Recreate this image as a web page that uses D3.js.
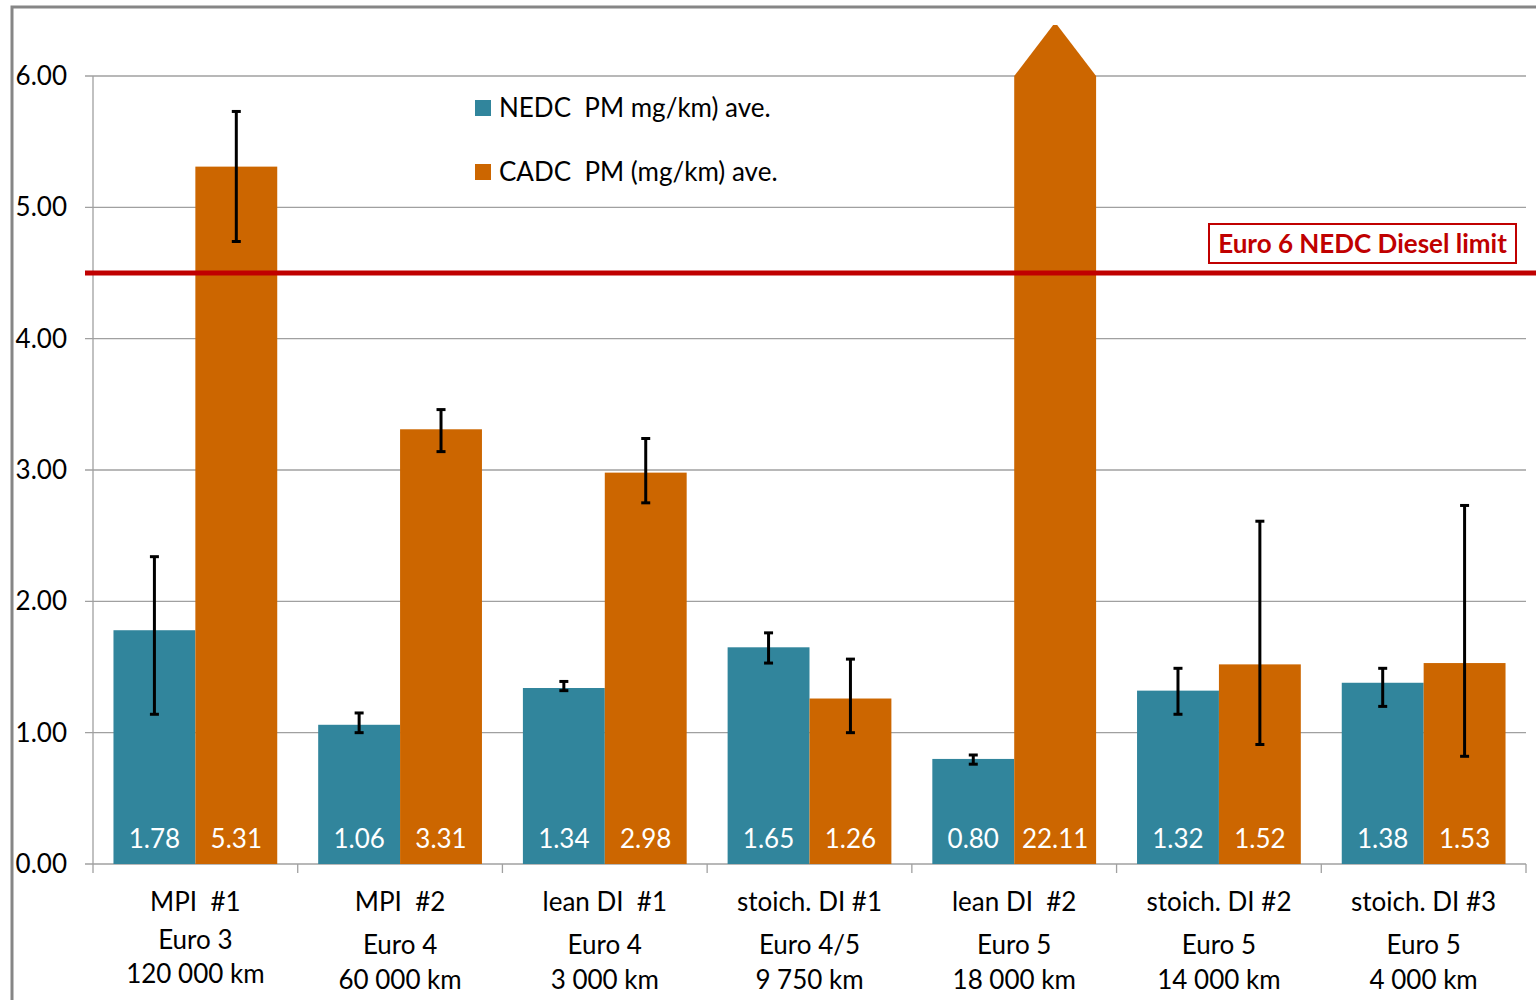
<!DOCTYPE html>
<html>
<head>
<meta charset="utf-8">
<script src="https://cdn.jsdelivr.net/npm/d3@7"></script>
<style>
  html, body { margin: 0; padding: 0; background: #fff; }
  svg { display: block; font-family: Lato, "Open Sans", sans-serif; }
  svg text { white-space: pre; }
</style>
</head>
<body>
<svg id="chart" width="1536" height="1000"></svg>
<script>
// Vehicle groups and their multi-line axis labels
const categories = ["MPI #1", "MPI #2", "lean DI #1", "stoich. DI #1", "lean DI #2", "stoich. DI #2", "stoich. DI #3"];
const labelLine1 = ["MPI  #1", "MPI  #2", "lean DI  #1", "stoich. DI #1", "lean DI  #2", "stoich. DI #2", "stoich. DI #3"];
const labelLine2 = ["Euro 3", "Euro 4", "Euro 4", "Euro 4/5", "Euro 5", "Euro 5", "Euro 5"];
const labelLine3 = ["120 000 km", "60 000 km", "3 000 km", "9 750 km", "18 000 km", "14 000 km", "4 000 km"];

// Average PM emissions (mg/km)
const seriesNames = ["NEDC  PM mg/km) ave.", "CADC  PM (mg/km) ave."];
const nedcValues = [1.78, 1.06, 1.34, 1.65, 0.80, 1.32, 1.38];
const cadcValues = [5.31, 3.31, 2.98, 1.26, 22.11, 1.52, 1.53];

// Error bar ranges (min / max)
const nedcErrLow  = [1.14, 1.00, 1.32, 1.53, 0.76, 1.14, 1.20];
const nedcErrHigh = [2.34, 1.15, 1.39, 1.76, 0.83, 1.49, 1.49];
const cadcErrLow  = [4.74, 3.14, 2.75, 1.00, null, 0.91, 0.82];
const cadcErrHigh = [5.73, 3.46, 3.24, 1.56, null, 2.61, 2.73];

// Y axis ticks and the regulatory limit
const yTicks = [0, 1, 2, 3, 4, 5, 6];
const limitValue = 4.5;
const limitLabel = "Euro 6 NEDC Diesel limit";

const colors = ["#31859C", "#CC6600"];
const red = "#C00000";
const fontSize = 26;

const svg = d3.select("#chart");
const plot = { left: 93, right: 1526, top: 76, bottom: 864 };

const x = d3.scaleBand().domain(categories).range([plot.left, plot.right])
  .paddingInner(0.2).paddingOuter(0.1);
const xInner = d3.scaleBand().domain([0, 1]).range([0, x.bandwidth()]);
const y = d3.scaleLinear().domain([0, 6]).range([plot.bottom, plot.top]);
const yMax = y.domain()[1];

// Outer chart frame
svg.append("path")
  .attr("d", `M12,1000 V7 H1536`)
  .attr("fill", "none").attr("stroke", "#868686").attr("stroke-width", 3);

// Gridlines with small ticks to the left of the axis
svg.append("g").selectAll("line").data(yTicks).join("line")
  .attr("x1", plot.left - 8).attr("x2", plot.right)
  .attr("y1", d => y(d)).attr("y2", d => y(d))
  .attr("stroke", "#a0a0a0").attr("stroke-width", 1.3);

// Vertical axis line
svg.append("line")
  .attr("x1", plot.left).attr("x2", plot.left)
  .attr("y1", plot.top).attr("y2", plot.bottom)
  .attr("stroke", "#a0a0a0").attr("stroke-width", 1.3);

// Y tick labels
svg.append("g").selectAll("text").data(yTicks).join("text")
  .attr("x", 67).attr("y", d => y(d))
  .attr("dy", "0.35em").attr("text-anchor", "end")
  .attr("font-size", fontSize).attr("fill", "#000")
  .text(d => d3.format(".2f")(d));

// Category separator ticks below the axis
const step = x.step();
const boundaries = d3.range(categories.length + 1).map(i => plot.left + i * step);
svg.append("g").selectAll("line").data(boundaries).join("line")
  .attr("x1", d => d).attr("x2", d => d)
  .attr("y1", plot.bottom).attr("y2", plot.bottom + 9)
  .attr("stroke", "#a0a0a0").attr("stroke-width", 1.3);

// Bars
const series = [
  { values: nedcValues, lo: nedcErrLow, hi: nedcErrHigh },
  { values: cadcValues, lo: cadcErrLow, hi: cadcErrHigh }
];

const barsG = svg.append("g");
series.forEach((s, si) => {
  s.values.forEach((v, i) => {
    const x0 = x(categories[i]) + xInner(si);
    const w = xInner.bandwidth();
    if (v <= yMax) {
      barsG.append("rect")
        .attr("x", x0).attr("y", y(v))
        .attr("width", w).attr("height", y(0) - y(v))
        .attr("fill", colors[si]);
    } else {
      // Off-scale value: bar clipped at the axis top with an arrow head
      const top = y(yMax);
      const tip = top - 51;
      const cx = x0 + w / 2;
      barsG.append("path")
        .attr("d", `M${x0},${y(0)} V${top} L${cx - 2},${tip} L${cx + 2},${tip} L${x0 + w},${top} V${y(0)} Z`)
        .attr("fill", colors[si]);
    }
  });
});

// Limit line
svg.append("line")
  .attr("x1", plot.left - 8).attr("x2", 1536)
  .attr("y1", y(limitValue)).attr("y2", y(limitValue))
  .attr("stroke", red).attr("stroke-width", 5);

// Error bars
const errG = svg.append("g").attr("stroke", "#000").attr("stroke-width", 3);
series.forEach((s, si) => {
  s.values.forEach((v, i) => {
    if (s.lo[i] == null) return;
    const cx = x(categories[i]) + xInner(si) + xInner.bandwidth() / 2;
    errG.append("line").attr("x1", cx).attr("x2", cx)
      .attr("y1", y(s.lo[i])).attr("y2", y(s.hi[i]));
    [s.lo[i], s.hi[i]].forEach(e => {
      errG.append("line").attr("x1", cx - 4.5).attr("x2", cx + 4.5)
        .attr("y1", y(e)).attr("y2", y(e));
    });
  });
});

// Value labels inside the bars
series.forEach((s, si) => {
  svg.append("g").selectAll("text").data(s.values).join("text")
    .attr("x", (d, i) => x(categories[i]) + xInner(si) + xInner.bandwidth() / 2)
    .attr("y", 839).attr("dy", "0.35em")
    .attr("text-anchor", "middle").attr("font-size", fontSize).attr("fill", "#fff")
    .text(d => d3.format(".2f")(d));
});

// Category labels (three lines each)
const catG = svg.append("g").attr("font-size", fontSize).attr("fill", "#000").attr("text-anchor", "middle");
categories.forEach((c, i) => {
  const cx = x(c) + x.bandwidth() / 2;
  const lineY = i === 0 ? [902, 940, 974] : [902, 945, 980];
  [labelLine1[i], labelLine2[i], labelLine3[i]].forEach((t, k) => {
    catG.append("text").attr("x", cx).attr("y", lineY[k]).attr("dy", "0.35em").text(t);
  });
});

// Legend
const legend = svg.append("g");
seriesNames.forEach((n, i) => {
  const ly = 108 + i * 64;
  legend.append("rect").attr("x", 475).attr("y", ly - 8).attr("width", 16).attr("height", 16).attr("fill", colors[i]);
  legend.append("text").attr("x", 499).attr("y", ly).attr("dy", "0.35em")
    .attr("font-size", fontSize).attr("fill", "#000").text(n);
});

// Limit annotation box
const note = svg.append("g");
note.append("rect").attr("x", 1209).attr("y", 224).attr("width", 307).attr("height", 39)
  .attr("fill", "#fff").attr("stroke", red).attr("stroke-width", 2);
note.append("text").attr("x", 1362.5).attr("y", 243.5).attr("dy", "0.35em")
  .attr("text-anchor", "middle").attr("font-size", fontSize).attr("font-weight", "bold")
  .attr("fill", red).text(limitLabel);
</script>
</body>
</html>
